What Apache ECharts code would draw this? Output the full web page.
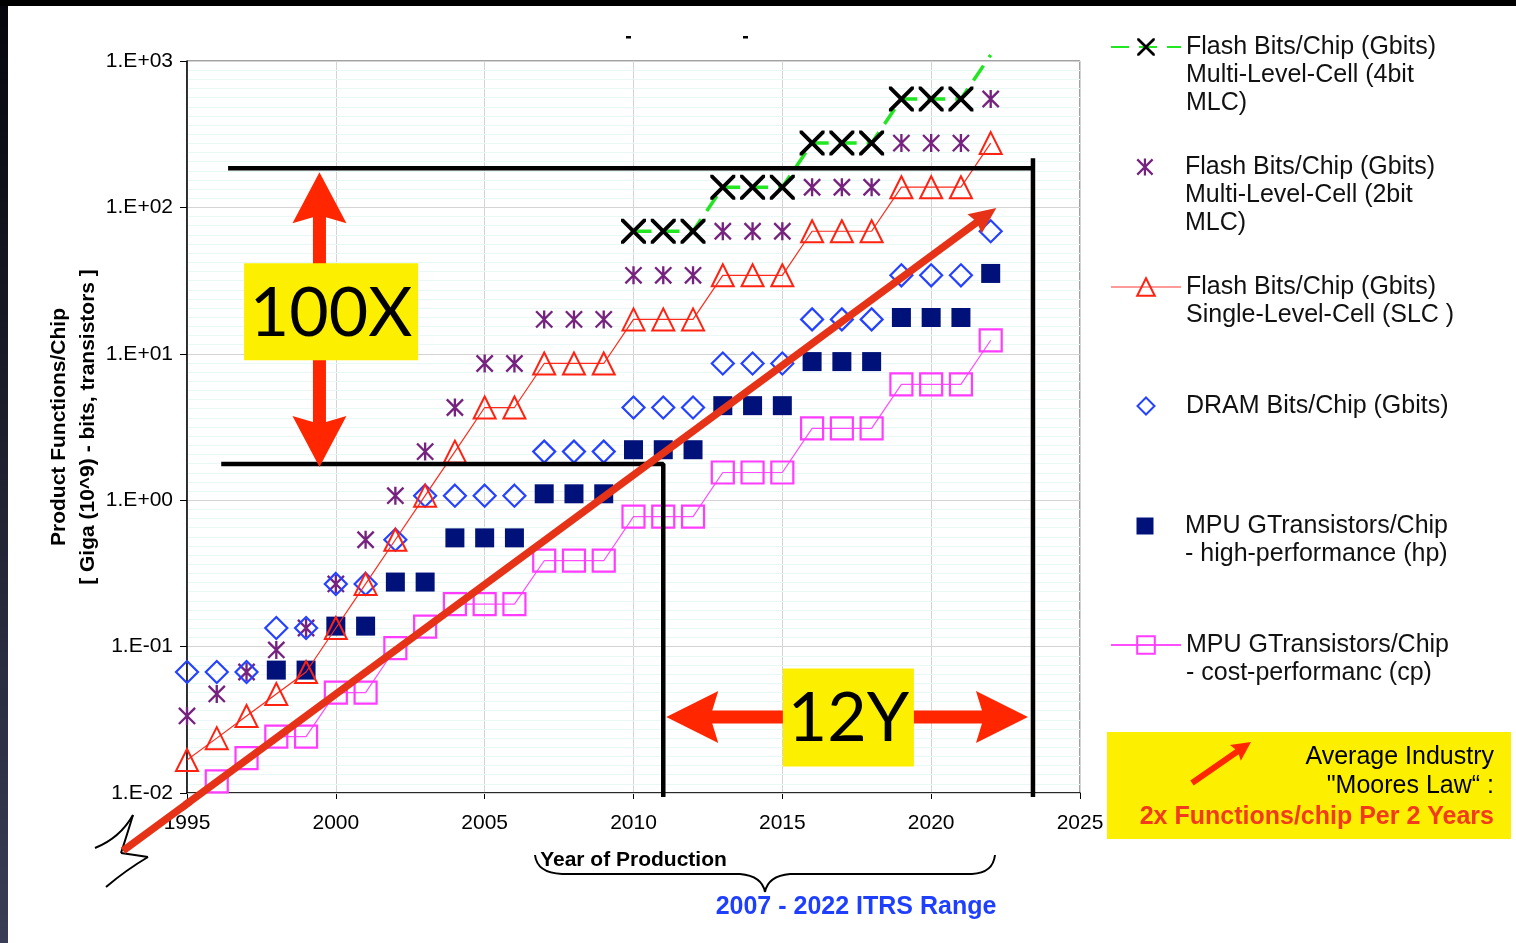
<!DOCTYPE html>
<html>
<head>
<meta charset="utf-8">
<script src="https://cdn.jsdelivr.net/npm/echarts@6/dist/echarts.min.js"></script>
<style>
html,body{margin:0;padding:0;background:#fff;}
#c{width:1516px;height:943px;}
</style>
</head>
<body>
<div id="c"></div>
<script>
// ---------------- DATA ----------------
const yearsAll  = [1995,1996,1997,1998,1999,2000,2001,2002,2003,2004,2005,2006,2007,2008,2009,2010,2011,2012,2013,2014,2015,2016,2017,2018,2019,2020,2021,2022];
const yearsMLC4 = [2010,2011,2012,2013,2014,2015,2016,2017,2018,2019,2020,2021,2022];
const yearsHP   = [1998,1999,2000,2001,2002,2003,2004,2005,2006,2007,2008,2009,2010,2011,2012,2013,2014,2015,2016,2017,2018,2019,2020,2021,2022];
const yearsCP   = [1996,1997,1998,1999,2000,2001,2002,2003,2004,2005,2006,2007,2008,2009,2010,2011,2012,2013,2014,2015,2016,2017,2018,2019,2020,2021,2022];

const flashMLC4 = [68.72,68.72,68.72,137.4,137.4,137.4,274.9,274.9,274.9,549.8,549.8,549.8,1099.5];
const flashMLC2 = [0.0336,0.0475,0.0671,0.0949,0.134,0.268,0.537,1.074,2.147,4.295,8.59,8.59,17.18,17.18,17.18,34.36,34.36,34.36,68.72,68.72,68.72,137.4,137.4,137.4,274.9,274.9,274.9,549.8];
const flashSLC  = [0.0168,0.0237,0.0336,0.0475,0.0671,0.134,0.268,0.537,1.074,2.147,4.295,4.295,8.59,8.59,8.59,17.18,17.18,17.18,34.36,34.36,34.36,68.72,68.72,68.72,137.4,137.4,137.4,274.9];
const dramBits  = [0.0671,0.0671,0.0671,0.134,0.134,0.268,0.268,0.537,1.074,1.074,1.074,1.074,2.147,2.147,2.147,4.295,4.295,4.295,8.59,8.59,8.59,17.18,17.18,17.18,34.36,34.36,34.36,68.72];
const mpuHP     = [0.0691,0.0691,0.138,0.138,0.276,0.276,0.553,0.553,0.553,1.106,1.106,1.106,2.212,2.212,2.212,4.424,4.424,4.424,8.848,8.848,8.848,17.696,17.696,17.696,35.391];
const mpuCP     = [0.012,0.0173,0.0243,0.0243,0.0485,0.0485,0.0975,0.137,0.195,0.195,0.195,0.386,0.386,0.386,0.773,0.773,0.773,1.546,1.546,1.546,3.092,3.092,3.092,6.184,6.184,6.184,12.368];

// Moore's-law trend line (drawn by hand on the original)
const trendYears  = [1992.85, 2021.81];
const trendValues = [0.00403, 87.1];

// 100X / 12Y bracket lines
const upperYears  = [1996.38, 2023.42];
const upperValues = [185, 185];
const rightYears  = [2023.42, 2023.42];
const rightValues = [216.7, 0.0094];
const lowerYears  = [1996.15, 2011.0, 2011.0];
const lowerValues = [1.77, 1.77, 0.0094];

const xTicks = [1995, 2000, 2005, 2010, 2015, 2020, 2025];
const yTickLabels = ['1.E-02','1.E-01','1.E+00','1.E+01','1.E+02','1.E+03'];

const N4 = 'Flash Bits/Chip (Gbits)\nMulti-Level-Cell (4bit\nMLC)';
const N2 = 'Flash Bits/Chip (Gbits)\nMulti-Level-Cell (2bit\nMLC)';
const NS = 'Flash Bits/Chip (Gbits)\nSingle-Level-Cell (SLC )';
const ND = 'DRAM Bits/Chip (Gbits)';
const NH = 'MPU GTransistors/Chip\n- high-performance (hp)';
const NC = 'MPU GTransistors/Chip\n- cost-performanc (cp)';

// ---------------- STYLE ----------------
const FONT = "'Liberation Sans', Arial, sans-serif";
const pair = (xs, ys) => xs.map((x, i) => [x, ys[i]]);
const X_PATH = 'path://M0,0L11,0L50,39L89,0L100,0L100,11L61,50L100,89L100,100L89,100L50,61L11,100L0,100L0,89L39,50L0,11Z';
const STAR_PATH = 'path://M43.5,0L56.5,0L56.5,100L43.5,100Z M9.6,0.4L99.6,90.4L90.4,99.6L0.4,9.6Z M90.4,0.4L99.6,9.6L9.6,99.6L0.4,90.4Z';
const DIAMOND_ICON = 'path://M50,0L100,50L50,100L0,50Z';
const SQUARE_ICON = 'path://M0,0L100,0L100,100L0,100Z';
const CLEAR = 'rgba(0,0,0,0)';
const TREND = '#e63318';

const mlc4Data = pair(yearsMLC4, flashMLC4).map((p, i, a) => i === a.length - 1 ? {value: p, symbol: 'none'} : p);

const legendSpec = [
  {name: N4, iconY: 47,  lines: 3, line: true},
  {name: N2, iconY: 167, lines: 3, line: false},
  {name: NS, iconY: 287, lines: 2, line: true, lineColor: '#ff9a9a'},
  {name: ND, iconY: 406, lines: 1, line: false, icon: DIAMOND_ICON},
  {name: NH, iconY: 526, lines: 2, line: false, icon: SQUARE_ICON},
  {name: NC, iconY: 645, lines: 2, line: true}
];
const LH = 28;

const chart = echarts.init(document.getElementById('c'), null, {renderer: 'canvas'});

const option = {
  animation: false,
  backgroundColor: '#fff',
  grid: {left: 187, right: 436, top: 61, bottom: 150, show: true, borderColor: '#444', borderWidth: 1, backgroundColor: CLEAR, outerBoundsMode: 'none'},
  legend: legendSpec.map(s => {
    const block = (2 * s.lines - 1) * LH;
    const item = s.icon ? {name: s.name, icon: s.icon} : {name: s.name};
    const l = {
      data: [item], left: s.line ? 1110 : 1136.5, top: s.iconY - block / 2, orient: 'vertical', padding: 0,
      itemWidth: 70, itemHeight: s.line ? 22 : 17, itemGap: 0, selectedMode: false, symbolKeepAspect: true,
      formatter: n => '\n'.repeat(s.lines - 1) + n,
      textStyle: {fontFamily: FONT, fontSize: 25, lineHeight: LH, color: '#111'}
    };
    if (s.lineColor) l.lineStyle = {color: s.lineColor};
    return l;
  }),
  xAxis: {
    type: 'value', min: xTicks[0], max: xTicks[xTicks.length - 1], interval: 5,
    axisLine: {show: true, onZero: false, lineStyle: {color: '#000', width: 1.5}},
    axisTick: {show: true, length: 6, lineStyle: {color: '#000', width: 1}},
    axisLabel: {fontFamily: FONT, fontSize: 21, color: '#000', margin: 20, formatter: v => String(v)},
    splitLine: {show: true, lineStyle: {color: '#d4d4d4', width: 1}},
    name: 'Year of Production', nameLocation: 'middle', nameGap: 57, nameMoveOverlap: false,
    nameTextStyle: {fontFamily: FONT, fontSize: 21, fontWeight: 'bold', color: '#000'}
  },
  yAxis: [
    {
      type: 'log', logBase: 10, min: 0.01, max: 1000, z: 2,
      axisLine: {show: true, lineStyle: {color: '#000', width: 1.5}},
      axisTick: {show: true, length: 7, lineStyle: {color: '#000', width: 1}},
      axisLabel: {fontFamily: FONT, fontSize: 21, color: '#000', margin: 14,
        formatter: v => yTickLabels[Math.round(Math.log10(v)) + 2]},
      splitLine: {show: true, lineStyle: {color: '#d4d4d4', width: 1}},
      name: 'Product Functions/Chip\n[ Giga (10^9) - bits, transistors ]',
      nameLocation: 'middle', nameGap: 84, nameMoveOverlap: false,
      nameTextStyle: {fontFamily: FONT, fontSize: 21, fontWeight: 'bold', color: '#000', lineHeight: 29, align: 'center'}
    },
    {
      type: 'value', min: -2, max: 3, interval: 0.0625, position: 'right', z: 1,
      axisLine: {show: false}, axisTick: {show: false}, axisLabel: {show: false},
      splitLine: {show: true, lineStyle: {color: '#eaf7f7', width: 1}}
    }
  ],
  series: [
    {name: N4, type: 'line', data: mlc4Data, symbol: X_PATH, symbolSize: 25, clip: false, z: 3,
      itemStyle: {color: '#000'}, lineStyle: {color: '#22e622', width: 3.5, type: [18, 10]}},
    {name: N2, type: 'scatter', data: pair(yearsAll, flashMLC2), symbol: STAR_PATH, symbolSize: 18, symbolKeepAspect: true,
      itemStyle: {color: '#76237f', opacity: 1}},
    {name: NS, type: 'line', data: pair(yearsAll, flashSLC), symbol: 'triangle', symbolSize: 22,
      itemStyle: {color: CLEAR, borderColor: '#ff2211', borderWidth: 2}, lineStyle: {color: '#ff2a1a', width: 1.2}},
    {name: ND, type: 'scatter', data: pair(yearsAll, dramBits), symbol: 'diamond', symbolSize: 22,
      itemStyle: {color: CLEAR, borderColor: '#2442ff', borderWidth: 2.2, opacity: 1}},
    {name: NH, type: 'scatter', data: pair(yearsHP, mpuHP), symbol: 'rect', symbolSize: 19,
      itemStyle: {color: '#00127a', opacity: 1}},
    {name: NC, type: 'line', data: pair(yearsCP, mpuCP), symbol: 'rect', symbolSize: 22,
      itemStyle: {color: CLEAR, borderColor: '#ff3cff', borderWidth: 2.2}, lineStyle: {color: '#ff4dff', width: 1.2}},
    {name: 'bracketUpper', type: 'line', data: pair(upperYears, upperValues), symbol: 'none', clip: false, silent: true, z: 4,
      lineStyle: {color: '#000', width: 4.5}},
    {name: 'bracketRight', type: 'line', data: pair(rightYears, rightValues), symbol: 'none', clip: false, silent: true, z: 4,
      lineStyle: {color: '#000', width: 4.5}},
    {name: 'bracketLower', type: 'line', data: pair(lowerYears, lowerValues), symbol: 'none', clip: false, silent: true, z: 4,
      lineStyle: {color: '#000', width: 4.5}},
    {name: 'trend', type: 'line', data: pair(trendYears, trendValues), symbol: 'none', clip: false, silent: true, z: 5,
      lineStyle: {color: TREND, width: 7.5}}
  ]
};
chart.setOption(option);

// ---------------- ANNOTATIONS ----------------
const P = (x, y) => chart.convertToPixel({xAxisIndex: 0, yAxisIndex: 0}, [x, y]);
// linear extrapolation of the library's own scales (for the part of the trend outside the axes)
const c0 = P(xTicks[0], 0.01), c1 = P(xTicks[xTicks.length - 1], 1000);
const PX = (x, v) => [c0[0] + (x - xTicks[0]) / (xTicks[xTicks.length - 1] - xTicks[0]) * (c1[0] - c0[0]),
                      c0[1] + (Math.log10(v) + 2) / 5 * (c1[1] - c0[1])];
function arrowPoly(sx, sy, tx, ty, sw, hl, hw, notch) {
  const dx = tx - sx, dy = ty - sy, L = Math.hypot(dx, dy), ux = dx / L, uy = dy / L, nx = -uy, ny = ux;
  const bx = tx - ux * hl, by = ty - uy * hl;
  const jx = bx + ux * notch, jy = by + uy * notch;
  return [[sx + nx * sw / 2, sy + ny * sw / 2], [jx + nx * sw / 2, jy + ny * sw / 2], [bx + nx * hw / 2, by + ny * hw / 2], [tx, ty],
          [bx - nx * hw / 2, by - ny * hw / 2], [jx - nx * sw / 2, jy - ny * sw / 2], [sx - nx * sw / 2, sy - ny * sw / 2]];
}
const RED = '#ff2600', YEL = '#fcf000';
const g = [];
const curve = (x1, y1, cx, cy, x2, y2) => ({type: 'bezierCurve', z: 100,
  shape: {x1: x1, y1: y1, cpx1: cx, cpy1: cy, x2: x2, y2: y2}, style: {stroke: '#000', lineWidth: 2, fill: null}});
const seg = (x1, y1, x2, y2) => ({type: 'line', z: 100, shape: {x1: x1, y1: y1, x2: x2, y2: y2}, style: {stroke: '#000', lineWidth: 2}});
const txt = (x, y, text, font, fill, align) => ({type: 'text', x: x, y: y, z: 102,
  style: {text: text, font: font, fill: fill, align: align, verticalAlign: 'middle', textAlign: align, textVerticalAlign: 'middle'}});

g.push({type: 'rect', shape: {x: 0, y: 0, width: 8, height: 943}, z: 100,
  style: {fill: new echarts.graphic.LinearGradient(0, 0, 0, 1, [{offset: 0, color: '#05060c'}, {offset: 1, color: '#3a3d55'}])}});
g.push({type: 'rect', shape: {x: 0, y: 0, width: 1516, height: 6}, style: {fill: '#000'}, z: 100});

// 100X
const b100 = P(1999.84, 19.4);
const ax100 = P(1999.45, 185)[0];
const top100 = P(1999.45, 185)[1] + 4, bot100 = P(1999.45, 1.77)[1] + 3;
g.push({type: 'polygon', shape: {points: arrowPoly(ax100, b100[1] - 40, ax100, top100, 13, 51, 54, 6)}, style: {fill: RED}, z: 100});
g.push({type: 'polygon', shape: {points: arrowPoly(ax100, b100[1] + 40, ax100, bot100, 13, 51, 54, 6)}, style: {fill: RED}, z: 100});
g.push({type: 'rect', shape: {x: b100[0] - 87, y: b100[1] - 48.5, width: 174, height: 97}, style: {fill: YEL}, z: 101});
g.push(txt(b100[0], b100[1] + 2, '100X', "68px Lato, 'DejaVu Sans', sans-serif", '#000', 'center'));

// 12Y
const b12 = P(2017.22, 0.0328);
const ay12 = P(2017, 0.0331)[1];
const left12 = P(2011, 0.0331)[0] + 3, right12 = P(2023.42, 0.0331)[0] - 5;
g.push({type: 'polygon', shape: {points: arrowPoly(b12[0] - 55, ay12, left12, ay12, 13, 52, 52, 6)}, style: {fill: RED}, z: 100});
g.push({type: 'polygon', shape: {points: arrowPoly(b12[0] + 55, ay12, right12, ay12, 13, 52, 52, 6)}, style: {fill: RED}, z: 100});
g.push({type: 'rect', shape: {x: b12[0] - 65.5, y: b12[1] - 49, width: 131, height: 98}, style: {fill: YEL}, z: 101});
g.push(txt(b12[0], b12[1] + 2, '12Y', "68px Lato, 'DejaVu Sans', sans-serif", '#000', 'center'));

// axis-break squiggle
g.push(curve(95, 848, 120, 838, 133, 815));
g.push(curve(133, 815, 126, 838, 121, 853));
g.push(curve(121, 853, 135, 855, 148, 857));
g.push(curve(148, 857, 126, 870, 106, 887));

// trend: part outside the axes + arrow head
{
  const s = PX(trendYears[0], trendValues[0]), e = PX(trendYears[1], trendValues[1]);
  const dx = e[0] - s[0], dy = e[1] - s[1], L = Math.hypot(dx, dy), ux = dx / L, uy = dy / L;
  const tIn = (c0[0] + 3 - s[0]) / dx;
  g.push({type: 'line', z: 101, shape: {x1: s[0], y1: s[1], x2: s[0] + dx * tIn, y2: s[1] + dy * tIn}, style: {stroke: TREND, lineWidth: 7.5}});
  const tip = [e[0] + ux * 14, e[1] + uy * 14], st = [e[0] - ux * 14, e[1] - uy * 14];
  g.push({type: 'polygon', shape: {points: arrowPoly(st[0], st[1], tip[0], tip[1], 0.1, 27, 24, 3)}, style: {fill: TREND}, z: 100});
}

// Moore's law box
g.push({type: 'rect', shape: {x: 1107, y: 732, width: 404, height: 107}, style: {fill: YEL}, z: 100});
g.push({type: 'polygon', shape: {points: arrowPoly(1192, 783, 1251, 742, 6, 19, 19, 2)}, style: {fill: RED}, z: 101});
g.push(txt(1494, 757, 'Average Industry', '25px ' + FONT, '#000', 'right'));
g.push(txt(1494, 786, '"Moores Law\u201C :', '25px ' + FONT, '#000', 'right'));
g.push(txt(1494, 817, '2x Functions/chip Per 2 Years', 'bold 25px ' + FONT, '#f23a1c', 'right'));

// brace + ITRS range
g.push(curve(535, 855, 537, 873, 562, 874));
g.push(seg(562, 874, 740, 874));
g.push(curve(740, 874, 762, 876, 765, 892));
g.push(curve(765, 892, 768, 876, 790, 874));
g.push(seg(790, 874, 972, 874));
g.push(curve(972, 874, 993, 873, 995, 855));
g.push(txt(856, 907, '2007 - 2022 ITRS Range', 'bold 25px ' + FONT, '#1f3fff', 'center'));

// small dashes at top
g.push({type: 'rect', shape: {x: 626, y: 36, width: 5, height: 2.5}, style: {fill: '#000'}, z: 100});
g.push({type: 'rect', shape: {x: 743, y: 36, width: 5, height: 2.5}, style: {fill: '#000'}, z: 100});

chart.setOption({graphic: g});
</script>
</body>
</html>
